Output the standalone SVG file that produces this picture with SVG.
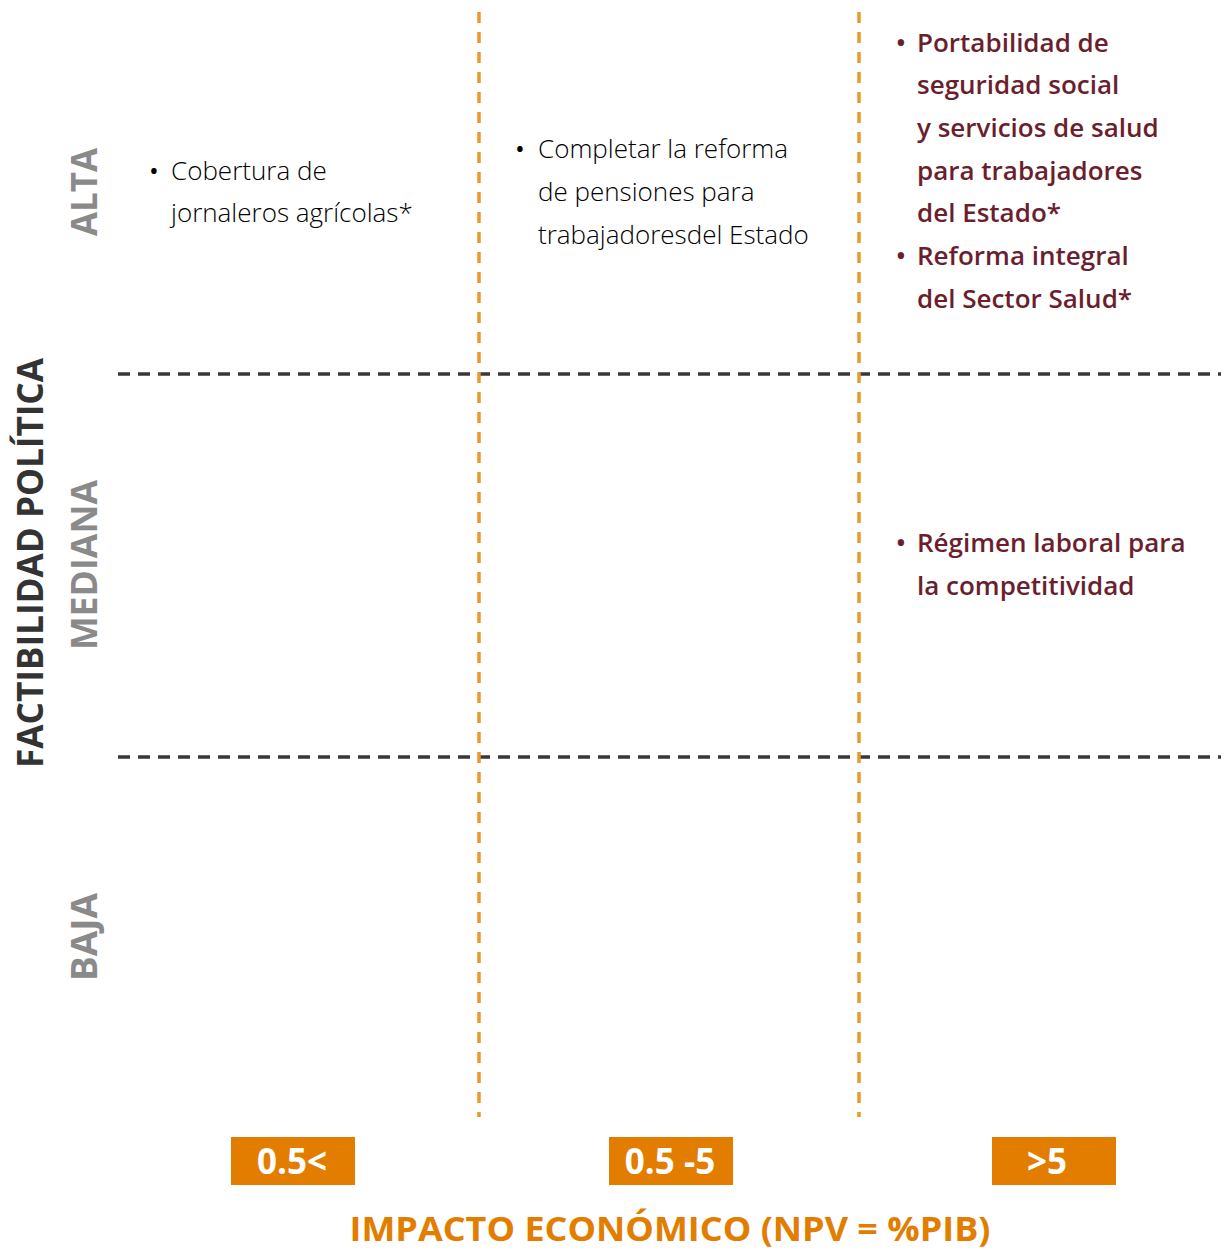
<svg xmlns="http://www.w3.org/2000/svg" width="1231" height="1249" viewBox="0 0 1231 1249">
<style>
.hline{stroke:#383838;stroke-width:3.5;stroke-dasharray:12 8;fill:none}
.vline{stroke:#E99A2C;stroke-width:3.5;stroke-dasharray:11 9;fill:none}
.lvl{font-family:"Open Sans","Liberation Sans",sans-serif;font-weight:700;font-size:35px;fill:#8a8a8a}
.axis{font-family:"Open Sans","Liberation Sans",sans-serif;font-weight:700;font-size:35px;fill:#333333}
.item{font-family:"Open Sans","Liberation Sans",sans-serif;font-weight:300;font-size:26px;fill:#000000}
.bul{font-family:"Open Sans","Liberation Sans",sans-serif;font-weight:400;font-size:26px;fill:#000000}
.itemr{font-family:"Open Sans","Liberation Sans",sans-serif;font-weight:600;font-size:26px;fill:#6B1E2E}
.box{fill:#E27D00}
.boxt{font-family:"Open Sans","Liberation Sans",sans-serif;font-weight:700;font-size:35px;fill:#ffffff;text-anchor:middle}
.xt{font-family:"Open Sans","Liberation Sans",sans-serif;font-weight:700;font-size:34px;fill:#E27D00;text-anchor:middle}
</style>
<rect width="1231" height="1249" fill="#ffffff"/>
<g id="connectors">
<line class="hline" x1="118" y1="374" x2="1221" y2="374"/>
<line class="hline" x1="118" y1="757" x2="1221" y2="757"/>
<line class="vline" x1="479" y1="12" x2="479" y2="1117"/>
<line class="vline" x1="859" y1="12" x2="859" y2="1117"/>
</g>
<g id="y-axis">
<text class="axis" transform="translate(43,563) rotate(-90)" text-anchor="middle" textLength="410" lengthAdjust="spacingAndGlyphs">FACTIBILIDAD POLÍTICA</text>
</g>
<g id="level-alta"><text class="lvl" transform="translate(97,192) rotate(-90)" text-anchor="middle" textLength="88" lengthAdjust="spacingAndGlyphs">ALTA</text></g>
<g id="level-mediana"><text class="lvl" transform="translate(97,565) rotate(-90)" text-anchor="middle" textLength="170" lengthAdjust="spacingAndGlyphs">MEDIANA</text></g>
<g id="level-baja"><text class="lvl" transform="translate(97,937) rotate(-90)" text-anchor="middle" textLength="88" lengthAdjust="spacingAndGlyphs">BAJA</text></g>
<g id="cell-alta-low">
<text class="bul" x="149" y="180">•</text>
<text class="item" x="171" y="180">Cobertura de</text>
<text class="item" x="171" y="222">jornaleros agrícolas*</text>
</g>
<g id="cell-alta-mid">
<text class="bul" x="515" y="158">•</text>
<text class="item" x="538" y="158">Completar la reforma</text>
<text class="item" x="538" y="201">de pensiones para</text>
<text class="item" x="538" y="244">trabajadoresdel Estado</text>
</g>
<g id="cell-alta-high">
<text class="itemr" x="896" y="52">•</text>
<text class="itemr" x="917" y="52">Portabilidad de</text>
<text class="itemr" x="917" y="94">seguridad social</text>
<text class="itemr" x="917" y="137">y servicios de salud</text>
<text class="itemr" x="917" y="180">para trabajadores</text>
<text class="itemr" x="917" y="222">del Estado*</text>
<text class="itemr" x="896" y="265">•</text>
<text class="itemr" x="917" y="265">Reforma integral</text>
<text class="itemr" x="917" y="308">del Sector Salud*</text>
</g>
<g id="cell-mediana-high">
<text class="itemr" x="896" y="552">•</text>
<text class="itemr" x="917" y="552">Régimen laboral para</text>
<text class="itemr" x="917" y="595">la competitividad</text>
</g>
<g id="x-low"><rect class="box" x="231" y="1137" width="124" height="48"/><text class="boxt" x="292" y="1174">0.5&lt;</text></g>
<g id="x-mid"><rect class="box" x="609" y="1137" width="124" height="48"/><text class="boxt" x="670" y="1174">0.5 -5</text></g>
<g id="x-high"><rect class="box" x="992" y="1137" width="124" height="48"/><text class="boxt" x="1047" y="1174">&gt;5</text></g>
<g id="x-axis"><text class="xt" x="670" y="1241" textLength="641" lengthAdjust="spacingAndGlyphs">IMPACTO ECONÓMICO (NPV = %PIB)</text></g>
</svg>
